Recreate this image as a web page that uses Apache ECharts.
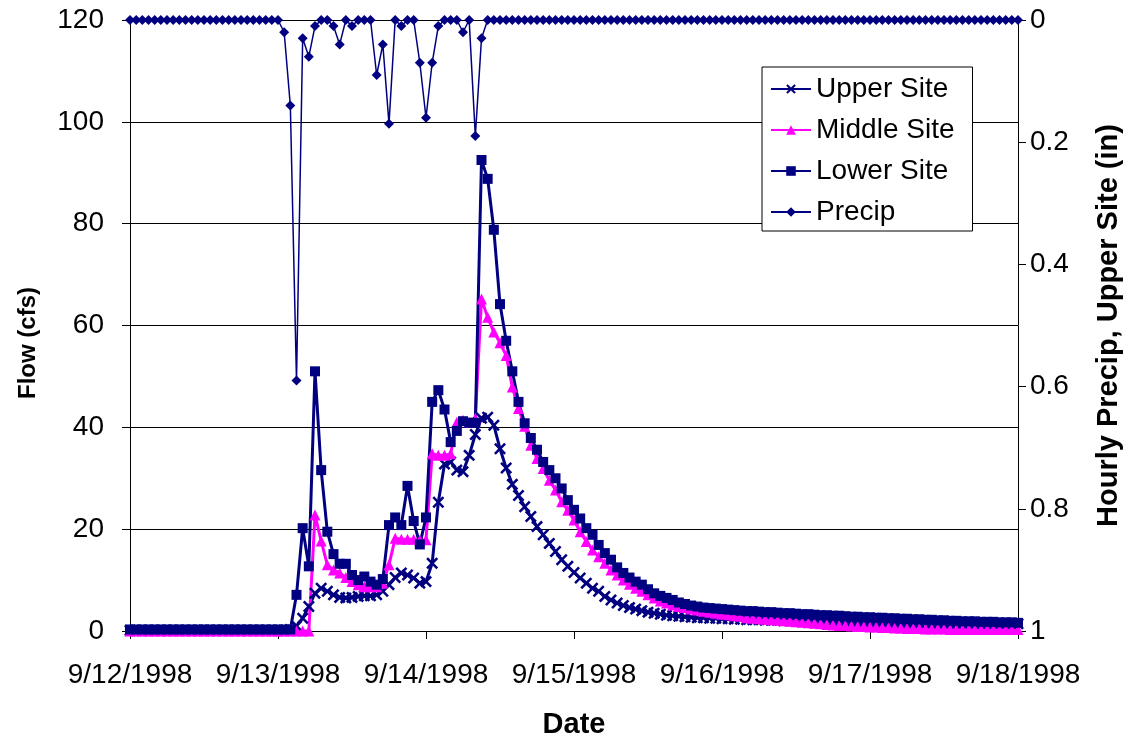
<!DOCTYPE html>
<html>
<head>
<meta charset="utf-8">
<script src="https://cdn.jsdelivr.net/npm/echarts@6/dist/echarts.min.js"></script>
<style>
html,body{margin:0;padding:0;background:#fff;}
#chart{width:1132px;height:744px;}
</style>
</head>
<body>
<div id="chart"></div>
<script>
// Hourly values, hour 0 = 9/12/1998 00:00 ... hour 144 = 9/18/1998 00:00
const dateLabels = ['9/12/1998','9/13/1998','9/14/1998','9/15/1998','9/16/1998','9/17/1998','9/18/1998'];
const flowTicks = [0,20,40,60,80,100,120];
const precipTicks = [0,0.2,0.4,0.6,0.8,1];

const upperSite = [
0.1,0.1,0.1,0.1,0.1,0.1,0.1,0.1,0.1,0.1,0.1,0.1,0.1,0.1,0.1,0.1,0.1,0.1,0.1,0.1,0.1,0.1,0.1,0.1,
0.1,0.1,0.3,1.0,2.5,4.8,7.4,8.4,7.8,7.1,6.6,6.5,6.6,6.8,6.9,6.9,7.1,7.8,9.1,10.5,11.4,11.0,10.4,9.4,
9.7,13.3,25.3,32.8,33.2,31.6,31.3,34.5,38.6,41.8,42.0,40.4,35.8,32.0,28.8,26.6,24.4,22.5,20.5,18.9,17.2,15.6,14.0,12.7,
11.5,10.4,9.4,8.4,7.8,6.8,6.1,5.5,5.0,4.6,4.3,4.0,3.7,3.5,3.3,3.1,3.0,2.9,2.8,2.7,2.6,2.6,2.5,2.5,
2.4,2.4,2.3,2.3,2.2,2.2,2.2,2.1,2.1,2.1,2.0,2.0,2.0,2.0,1.9,1.9,1.9,1.9,1.8,1.8,1.8,1.8,1.8,1.7,
1.7,1.7,1.7,1.7,1.6,1.6,1.6,1.6,1.6,1.6,1.5,1.5,1.5,1.5,1.5,1.5,1.5,1.4,1.4,1.4,1.4,1.4,1.4,1.4,
1.4
];
const middleSite = [
0,0,0,0,0,0,0,0,0,0,0,0,0,0,0,0,0,0,0,0,0,0,0,0,
0,0,0,0,0,0,22.8,17.7,13.0,12.0,11.4,10.5,9.7,9.1,8.7,8.7,8.7,9.4,13.0,18.2,18.0,18.0,18.0,17.8,
17.9,34.8,34.5,34.5,34.8,41.0,41.4,41.0,41.8,65.2,61.6,58.7,56.6,54.1,47.9,43.7,40.2,36.5,33.9,31.9,29.6,27.7,25.4,23.7,
21.8,19.5,17.6,15.9,14.6,13.3,12.0,11.0,10.0,9.2,8.4,7.8,7.1,6.5,5.9,5.5,5.1,4.8,4.6,4.3,4.1,3.9,3.7,3.5,
3.3,3.2,3.0,2.9,2.6,2.5,2.4,2.3,2.2,2.1,2.0,1.9,1.8,1.7,1.6,1.5,1.4,1.3,1.2,1.1,1.1,1.0,0.9,0.9,
0.8,0.8,0.7,0.7,0.6,0.6,0.5,0.5,0.5,0.4,0.4,0.4,0.4,0.3,0.3,0.3,0.3,0.3,0.3,0.3,0.3,0.3,0.3,0.3,
0.3
];
const lowerSite = [
0.3,0.3,0.3,0.3,0.3,0.3,0.3,0.3,0.3,0.3,0.3,0.3,0.3,0.3,0.3,0.3,0.3,0.3,0.3,0.3,0.3,0.3,0.3,0.3,
0.3,0.3,0.3,7.1,20.2,12.7,51.0,31.6,19.5,15.1,13.2,13.2,11.0,10.0,10.7,9.7,9.1,10.2,20.8,22.3,20.8,28.5,21.6,17.0,
22.3,45.0,47.3,43.5,37.1,39.3,41.2,40.9,40.9,92.5,88.8,78.8,64.2,57.0,51.0,45.0,40.8,37.9,35.6,33.2,31.6,30.0,28.0,25.7,
23.8,22.1,20.2,18.9,16.9,15.3,14.0,12.5,11.4,10.5,9.7,9.1,8.2,7.4,6.9,6.5,6.1,5.6,5.3,5.0,4.8,4.6,4.5,4.4,
4.3,4.2,4.1,4.0,3.9,3.9,3.8,3.7,3.7,3.6,3.5,3.5,3.4,3.3,3.3,3.2,3.1,3.1,3.0,3.0,2.9,2.8,2.8,2.7,
2.7,2.6,2.6,2.5,2.5,2.4,2.4,2.3,2.3,2.2,2.2,2.1,2.1,2.0,2.0,1.9,1.9,1.9,1.8,1.8,1.8,1.7,1.7,1.7,
1.6
];
const precip = [
0,0,0,0,0,0,0,0,0,0,0,0,0,0,0,0,0,0,0,0,0,0,0,0,
0,0.02,0.14,0.59,0.03,0.06,0.01,0,0,0.01,0.04,0,0.01,0,0,0,0.09,0.04,0.17,0,0.01,0,0,0.07,
0.16,0.07,0.01,0,0,0,0.02,0,0.19,0.03,0,0,0,0,0,0,0,0,0,0,0,0,0,0,
0,0,0,0,0,0,0,0,0,0,0,0,0,0,0,0,0,0,0,0,0,0,0,0,
0,0,0,0,0,0,0,0,0,0,0,0,0,0,0,0,0,0,0,0,0,0,0,0,
0,0,0,0,0,0,0,0,0,0,0,0,0,0,0,0,0,0,0,0,0,0,0,0,
0
];

const NAVY = '#000080';
const MAGENTA = '#FF00FF';
const FONT = '"Liberation Sans", Arial, sans-serif';
const X_SYMBOL = 'path://M0,1.5 L1.5,0 L5,3.5 L8.5,0 L10,1.5 L6.5,5 L10,8.5 L8.5,10 L5,6.5 L1.5,10 L0,8.5 L3.5,5 Z';

function pairs(arr){ return arr.map((v,i)=>[i,v]); }

const chart = echarts.init(document.getElementById('chart'), null, {renderer:'canvas'});
chart.setOption({
  animation:false,
  backgroundColor:'#ffffff',
  textStyle:{fontFamily:FONT},
  grid:{left:130, right:114, top:20, bottom:111, containLabel:false},
  graphic:[{
    type:'text', x:28, y:343, rotation:Math.PI/2, silent:true,
    style:{text:'Flow (cfs)', fontFamily:FONT, fontSize:24, fontWeight:'bold', fill:'#000',
      align:'center', verticalAlign:'middle'}
  }],
  legend:{
    orient:'vertical', left:762, top:67,
    padding:[7,18,4,8],
    itemGap:11, itemWidth:40, itemHeight:12,
    backgroundColor:'#ffffff', borderColor:'#000000', borderWidth:1,
    textStyle:{fontFamily:FONT, fontSize:28, color:'#000', lineHeight:30},
    selectedMode:false,
    data:['Upper Site','Middle Site','Lower Site','Precip']
  },
  xAxis:{
    type:'value', min:0, max:144, interval:24,
    name:'Date', nameLocation:'middle', nameGap:79,
    nameTextStyle:{fontFamily:FONT, fontSize:29, fontWeight:'bold', color:'#000'},
    axisLine:{show:true, onZero:false, lineStyle:{color:'#000', width:1}},
    axisTick:{show:true, inside:false, length:8, lineStyle:{color:'#000'}},
    axisLabel:{fontFamily:FONT, fontSize:28, color:'#000', margin:30,
      formatter:function(v){ return dateLabels[Math.round(v/24)]; }},
    splitLine:{show:false}
  },
  yAxis:[{
    type:'value', min:flowTicks[0], max:flowTicks[flowTicks.length-1], interval:20,
    position:'left',
    axisLine:{show:true, lineStyle:{color:'#000', width:1}},
    axisTick:{show:true, inside:false, length:8, lineStyle:{color:'#000'}},
    axisLabel:{fontFamily:FONT, fontSize:28, color:'#000', margin:26},
    splitLine:{show:true, lineStyle:{color:'#000', width:1}}
  },{
    type:'value', min:precipTicks[0], max:precipTicks[precipTicks.length-1], interval:0.2,
    position:'right', inverse:true,
    name:'Hourly Precip, Upper Site (in)', nameLocation:'middle', nameGap:76, nameRotate:90,
    nameTextStyle:{fontFamily:FONT, fontSize:29, fontWeight:'bold', color:'#000'},
    axisLine:{show:true, lineStyle:{color:'#000', width:1}},
    axisTick:{show:true, inside:false, length:8, lineStyle:{color:'#000'}},
    axisLabel:{fontFamily:FONT, fontSize:28, color:'#000', margin:12},
    splitLine:{show:false}
  }],
  series:[{
    name:'Upper Site', type:'line', yAxisIndex:0, data:pairs(upperSite),
    symbol:X_SYMBOL, symbolSize:12, showSymbol:true,
    lineStyle:{color:NAVY, width:3}, itemStyle:{color:NAVY},
    emphasis:{disabled:true}
  },{
    name:'Middle Site', type:'line', yAxisIndex:0, data:pairs(middleSite),
    symbol:'triangle', symbolSize:11, showSymbol:true,
    lineStyle:{color:MAGENTA, width:3}, itemStyle:{color:MAGENTA},
    emphasis:{disabled:true}
  },{
    name:'Lower Site', type:'line', yAxisIndex:0, data:pairs(lowerSite),
    symbol:'rect', symbolSize:10, showSymbol:true,
    lineStyle:{color:NAVY, width:3}, itemStyle:{color:NAVY},
    emphasis:{disabled:true}
  },{
    name:'Precip', type:'line', yAxisIndex:1, data:pairs(precip),
    symbol:'diamond', symbolSize:10, showSymbol:true, clip:false,
    lineStyle:{color:NAVY, width:1.5}, itemStyle:{color:NAVY},
    emphasis:{disabled:true}
  }]
});
</script>
</body>
</html>
